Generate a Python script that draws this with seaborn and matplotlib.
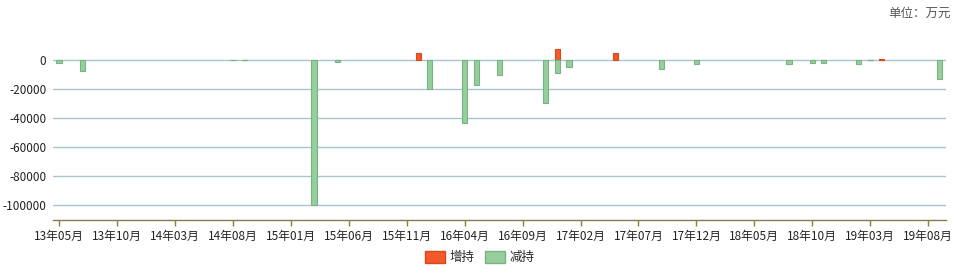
import matplotlib
matplotlib.use("Agg")
import matplotlib.pyplot as plt
import seaborn as sns
import pandas as pd

# ---- data ----
months = [f"{p.year % 100:02d}年{p.month:02d}月"
          for p in pd.period_range("2013-05", "2019-09", freq="M")]

increase = {
    "14年09月": 200,
    "15年12月": 4600,
    "16年12月": 7600,
    "17年05月": 4600,
    "19年03月": 300,
    "19年04月": 500,
}
decrease = {
    "13年05月": -1800,
    "13年07月": -7400,
    "14年08月": -200,
    "14年09月": -300,
    "15年03月": -99800,
    "15年05月": -1100,
    "16年01月": -19800,
    "16年04月": -43700,
    "16年05月": -17500,
    "16年07月": -10600,
    "16年11月": -29900,
    "16年12月": -8700,
    "17年01月": -4600,
    "17年09月": -6400,
    "17年12月": -3000,
    "18年08月": -2500,
    "18年10月": -1800,
    "18年11月": -1800,
    "19年02月": -2500,
    "19年03月": -200,
    "19年09月": -12900,
}
series_names = ["增持", "减持"]
yticks = [0, -20000, -40000, -60000, -80000, -100000]
unit_label = "单位：万元"

rows = [(m, v, "增持") for m, v in increase.items()] + \
       [(m, v, "减持") for m, v in decrease.items()]
df = pd.DataFrame(rows, columns=["month", "value", "type"])

# ---- style ----
sns.set_style("white")
plt.rcParams["font.family"] = ["Noto Sans CJK SC", "DejaVu Sans"]
plt.rcParams["axes.unicode_minus"] = False

fig = plt.figure(figsize=(9.59, 2.78), dpi=100)
ax = fig.add_axes([53.3 / 959, 58.5 / 278, (945.5 - 53.3) / 959, (219.5 - 31) / 278])

palette = {"增持": "#F25A2B", "减持": "#96CE9E"}
sns.barplot(data=df, x="month", y="value", hue="type", order=months,
            hue_order=series_names, palette=palette, dodge=False,
            width=0.45, ax=ax, saturation=1, legend=True)

edge = {"增持": "#D8481C", "减持": "#78B482"}
for cont, name in zip(ax.containers, series_names):
    for p in cont:
        p.set_edgecolor(edge[name])
        p.set_linewidth(0.8)

ax.set_xlim(-0.5, len(months) - 0.5)
ax.set_ylim(-110000, 20000)
ax.set_yticks(yticks)
ax.set_yticklabels([str(v) for v in yticks])
ax.yaxis.grid(True, color="#A9C4CC", linewidth=1)
ax.set_axisbelow(True)

ax.set_xticks(range(0, len(months), 5))
ax.set_xticklabels(months[::5])
ax.set_xlabel("")
ax.set_ylabel("")

for s in ["top", "right", "left"]:
    ax.spines[s].set_visible(False)
ax.spines["bottom"].set_color("#8C7A48")
ax.spines["bottom"].set_linewidth(1)

ax.tick_params(axis="x", length=4, width=1, color="#8C7A48", labelsize=8.5,
               pad=3.5, labelcolor="#222222", bottom=True)
ax.tick_params(axis="y", length=0, labelsize=8.5, pad=5, labelcolor="#222222")

handles, labels = ax.get_legend_handles_labels()
ax.get_legend().remove()
for h, name in zip(handles, labels):
    h.set_edgecolor(edge[name])
fig.legend(handles, labels, loc="center", bbox_to_anchor=(0.5, 0.075), ncol=2,
           frameon=False, fontsize=9, handlelength=1.6, handleheight=1.1,
           handletextpad=0.4, columnspacing=0.8)

fig.text(951 / 959, 1 - 13 / 278, unit_label, ha="right", va="center",
         fontsize=9, color="#555555")

fig.savefig("out.png", dpi=100)
